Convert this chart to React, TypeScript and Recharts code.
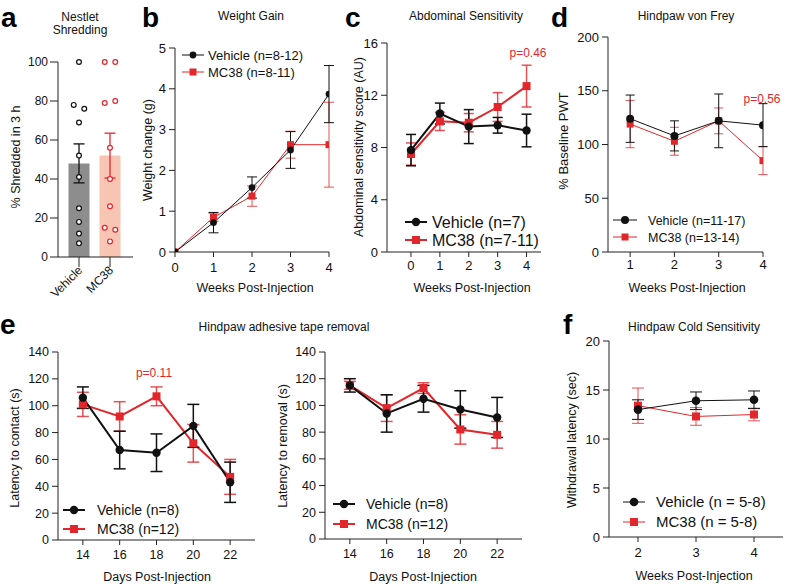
import React from 'react'
import {
  LineChart,
  Line,
  XAxis,
  YAxis,
  ErrorBar,
  ComposedChart,
  Bar,
  Cell,
  Scatter,
} from 'recharts'

const FONT = '"Liberation Sans", Arial, Helvetica, sans-serif'
const RED = '#e2262b'
const INK = '#111111'
const AXIS = '#222222'

// a: nestlet shredding
const shredGroups = ['Vehicle', 'MC38']
const shredMean = [48, 52]
const shredSem = [10, 11.5]
const shredVehicle = [100, 78, 76, 69, 52, 41, 25, 18, 12, 7]
const shredMC38 = [100, 100, 79, 80, 56, 40, 26, 15, 14, 8]

// b: weight gain
const weeksB = [0, 1, 2, 3, 4]
const weightVeh = [0, 0.72, 1.58, 2.5, 3.87]
const weightVehErr = [0, 0.25, 0.26, 0.45, 0.7]
const weightMC = [0, 0.85, 1.37, 2.63, 2.63]
const weightMCErr = [0, 0.1, 0.25, 0.33, 1.04]

// c: abdominal sensitivity
const weeksC = [0, 1, 2, 3, 4]
const abdVeh = [7.8, 10.6, 9.6, 9.7, 9.3]
const abdVehErr = [1.2, 0.8, 1.3, 0.6, 1.25]
const abdMC = [7.5, 10.0, 9.9, 11.1, 12.7]
const abdMCErr = [0.85, 0.7, 0.7, 1.1, 1.6]

// d: von Frey
const weeksD = [1, 2, 3, 4]
const frVeh = [124, 108, 122, 118]
const frVehErr = [22, 14, 25, 20]
const frMC = [119, 103, 122, 85]
const frMCErr = [22, 13, 12, 13]

// e: adhesive tape
const daysE = [14, 16, 18, 20, 22]
const contactVeh = [106, 67, 65, 85, 43]
const contactVehErr = [8, 14, 14, 16, 15]
const contactMC = [101, 92, 107, 72, 47]
const contactMCErr = [9, 11, 7, 14, 13]
const removalVeh = [115, 94, 105, 97, 91]
const removalVehErr = [5, 14, 10, 14, 15]
const removalMC = [115, 98, 113, 82, 78]
const removalMCErr = [3, 10, 4, 11, 10]

// f: cold sensitivity
const weeksF = [2, 3, 4]
const coldVeh = [13.0, 13.9, 14.0]
const coldVehErr = [1.0, 0.9, 0.9]
const coldMC = [13.4, 12.3, 12.5]
const coldMCErr = [1.8, 0.9, 0.65]

const series = (xs: number[], veh: number[], vehErr: number[], mc: number[], mcErr: number[]) =>
  xs.map((x, i) => ({ x, veh: veh[i], vehErr: vehErr[i], mc: mc[i], mcErr: mcErr[i] }))

// nudge near-equal points sideways so they don't overlap
const spread = (vals: number[], group: number) =>
  vals.map((v, i) => {
    let off = 0
    if (i + 1 < vals.length && Math.abs(vals[i + 1] - v) < 4) off = -0.17
    else if (i > 0 && Math.abs(vals[i - 1] - v) < 4) off = 0.17
    return { px: group + 1 + off, v }
  })

const YW = 40
const XH = 44
const MT = 12
const MR = 14

type Plot = { x0: number; y0: number; x1: number; y1: number }

const frame = (p: Plot) => ({
  left: p.x0 - YW,
  top: p.y0 - MT,
  width: p.x1 - p.x0 + YW + MR,
  height: p.y1 - p.y0 + MT + XH,
})

const circleDot = (r: number) => (p: any) =>
  p.cx == null || p.cy == null ? <g key={p.index} /> : <circle key={p.index} cx={p.cx} cy={p.cy} r={r} fill={INK} />

const squareDot = (s: number) => (p: any) =>
  p.cx == null || p.cy == null ? (
    <g key={p.index} />
  ) : (
    <rect key={p.index} x={p.cx - s / 2} y={p.cy - s / 2} width={s} height={s} fill={RED} />
  )

interface CourseProps {
  rows: any[]
  plot: Plot
  xDomain: number[]
  xTicks: number[]
  yDomain: number[]
  yTicks: number[]
  font: number
  xGap: number
  lineW: number
  dotR: number
  sq: number
  cap: number
  barW: number
}

function Course({ rows, plot, xDomain, xTicks, yDomain, yTicks, font, xGap, lineW, dotR, sq, cap, barW }: CourseProps) {
  const f = frame(plot)
  const tick = { fill: INK, fontSize: font, fontFamily: FONT }
  return (
    <div style={{ position: 'absolute', left: f.left, top: f.top }}>
      <LineChart width={f.width} height={f.height} data={rows} margin={{ top: MT, right: MR, left: 0, bottom: 0 }}>
        <XAxis
          dataKey="x"
          type="number"
          domain={xDomain}
          ticks={xTicks}
          interval={0}
          allowDataOverflow
          height={XH}
          tickSize={5}
          tickMargin={xGap}
          stroke={AXIS}
          tick={tick}
        />
        <YAxis
          type="number"
          domain={yDomain}
          ticks={yTicks}
          interval={0}
          allowDataOverflow
          width={YW}
          tickSize={6}
          tickMargin={3}
          stroke={AXIS}
          tick={tick}
        />
        <Line dataKey="mc" stroke={RED} strokeWidth={lineW} dot={squareDot(sq)} activeDot={false} isAnimationActive={false}>
          <ErrorBar dataKey="mcErr" width={cap} stroke={RED} strokeOpacity={0.8} strokeWidth={barW} isAnimationActive={false} />
        </Line>
        <Line dataKey="veh" stroke={INK} strokeWidth={lineW} dot={circleDot(dotR)} activeDot={false} isAnimationActive={false}>
          <ErrorBar dataKey="vehErr" width={cap} stroke={INK} strokeWidth={barW} isAnimationActive={false} />
        </Line>
      </LineChart>
    </div>
  )
}

function Shredding() {
  const plot = { x0: 58, y0: 62, x1: 133, y1: 257 }
  const f = frame(plot)
  const rows = shredGroups.map((g, i) => ({ group: g, mean: shredMean[i] }))
  const pad = { left: 5.5, right: 7.5 }
  const tick = { fill: INK, fontSize: 12, fontFamily: FONT }
  const slant = (p: any) => (
    <text
      x={p.x + 4}
      y={p.y + 4}
      transform={`rotate(-45 ${p.x + 4} ${p.y + 4})`}
      textAnchor="end"
      fontSize={12}
      fontFamily={FONT}
      fill={INK}
    >
      {p.payload.value}
    </text>
  )
  const hollow = (color: string) => (p: any) =>
    <circle cx={p.cx} cy={p.cy} r={2.4} fill="#fff" stroke={color} strokeWidth={1.2} />
  return (
    <div style={{ position: 'absolute', left: f.left, top: f.top }}>
      <ComposedChart width={f.width} height={f.height} data={rows} margin={{ top: MT, right: MR, left: 0, bottom: 0 }}>
        <XAxis xAxisId="cat" dataKey="group" padding={pad} height={XH} tickSize={10} tickMargin={0} stroke={AXIS} tick={slant} interval={0} />
        <XAxis xAxisId="num" dataKey="px" type="number" domain={[0.5, 2.5]} allowDataOverflow padding={pad} hide />
        <YAxis type="number" domain={[0, 100]} ticks={[0, 20, 40, 60, 80, 100]} interval={0} width={YW} tickSize={8} tickMargin={2} stroke={AXIS} tick={tick} />
        <Bar xAxisId="cat" dataKey="mean" barSize={21} isAnimationActive={false}>
          <Cell fill="#8d8d8f" />
          <Cell fill="#f8c4b4" />
        </Bar>
        {[0, 1].map((i) => (
          <Scatter
            key={'m' + i}
            xAxisId="num"
            data={[{ px: i + 1, mean: shredMean[i], sem: shredSem[i] }]}
            dataKey="mean"
            shape={() => <g />}
            isAnimationActive={false}
          >
            <ErrorBar dataKey="sem" direction="y" width={5.5} stroke={i === 0 ? INK : RED} strokeWidth={1.3} isAnimationActive={false} />
          </Scatter>
        ))}
        <Scatter xAxisId="num" data={spread(shredVehicle, 0)} dataKey="v" shape={hollow(INK)} isAnimationActive={false} />
        <Scatter xAxisId="num" data={spread(shredMC38, 1)} dataKey="v" shape={hollow(RED)} isAnimationActive={false} />
      </ComposedChart>
    </div>
  )
}

interface KeyProps {
  x: number
  y: number
  gap: number
  len: number
  tx: number
  font: number
  lineW: number
  r: number
  sq: number
  labels: string[]
}

function Key({ x, y, gap, len, tx, font, lineW, r, sq, labels }: KeyProps) {
  const mid = x + len / 2
  return (
    <g fontFamily={FONT} fontSize={font} fill={INK}>
      <line x1={x} x2={x + len} y1={y} y2={y} stroke={INK} strokeWidth={lineW} />
      <circle cx={mid} cy={y} r={r} fill={INK} />
      <text x={tx} y={y} dy="0.36em">{labels[0]}</text>
      <line x1={x} x2={x + len} y1={y + gap} y2={y + gap} stroke={RED} strokeWidth={lineW} />
      <rect x={mid - sq / 2} y={y + gap - sq / 2} width={sq} height={sq} fill={RED} />
      <text x={tx} y={y + gap} dy="0.36em">{labels[1]}</text>
    </g>
  )
}

const VLabel = ({ x, y, text, size = 12.5 }: { x: number; y: number; text: string; size?: number }) => (
  <text x={x} y={y} dy="0.36em" transform={`rotate(-90 ${x} ${y})`} textAnchor="middle" fontSize={size}>
    {text}
  </text>
)

export default function App() {
  return (
    <div style={{ position: 'absolute', left: 0, top: 0, width: 786, height: 584, background: '#fff', overflow: 'hidden' }}>
      <Shredding />
      <Course
        rows={series(weeksB, weightVeh, weightVehErr, weightMC, weightMCErr)}
        plot={{ x0: 175, y0: 48, x1: 329, y1: 252 }}
        xDomain={[0, 4]}
        xTicks={[0, 1, 2, 3, 4]}
        yDomain={[0, 5]}
        yTicks={[0, 1, 2, 3, 4, 5]}
        font={13}
        xGap={6}
        lineW={1}
        dotR={3.4}
        sq={7}
        cap={5}
        barW={1}
      />
      <Course
        rows={series(weeksC, abdVeh, abdVehErr, abdMC, abdMCErr)}
        plot={{ x0: 387, y0: 43, x1: 541, y1: 252 }}
        xDomain={[-0.83, 4.5]}
        xTicks={[0, 1, 2, 3, 4]}
        yDomain={[0, 16]}
        yTicks={[0, 4, 8, 12, 16]}
        font={13}
        xGap={4}
        lineW={2}
        dotR={4.2}
        sq={8}
        cap={5}
        barW={1.5}
      />
      <Course
        rows={series(weeksD, frVeh, frVehErr, frMC, frMCErr)}
        plot={{ x0: 608, y0: 37, x1: 763, y1: 252 }}
        xDomain={[0.5, 4]}
        xTicks={[1, 2, 3, 4]}
        yDomain={[0, 200]}
        yTicks={[0, 50, 100, 150, 200]}
        font={13}
        xGap={3}
        lineW={1}
        dotR={4}
        sq={7}
        cap={4.5}
        barW={1}
      />
      <Course
        rows={series(daysE, contactVeh, contactVehErr, contactMC, contactMCErr)}
        plot={{ x0: 58, y0: 352, x1: 255, y1: 540 }}
        xDomain={[12.65, 23.35]}
        xTicks={[14, 16, 18, 20, 22]}
        yDomain={[0, 140]}
        yTicks={[0, 20, 40, 60, 80, 100, 120, 140]}
        font={12.5}
        xGap={5}
        lineW={2}
        dotR={4.2}
        sq={8}
        cap={6}
        barW={1.5}
      />
      <Course
        rows={series(daysE, removalVeh, removalVehErr, removalMC, removalMCErr)}
        plot={{ x0: 325, y0: 352, x1: 522, y1: 539 }}
        xDomain={[12.65, 23.35]}
        xTicks={[14, 16, 18, 20, 22]}
        yDomain={[0, 140]}
        yTicks={[0, 20, 40, 60, 80, 100, 120, 140]}
        font={12.5}
        xGap={5}
        lineW={2}
        dotR={4.2}
        sq={8}
        cap={6}
        barW={1.5}
      />
      <Course
        rows={series(weeksF, coldVeh, coldVehErr, coldMC, coldMCErr)}
        plot={{ x0: 609, y0: 341, x1: 783, y1: 537 }}
        xDomain={[1.5, 4.5]}
        xTicks={[2, 3, 4]}
        yDomain={[0, 20]}
        yTicks={[0, 5, 10, 15, 20]}
        font={13}
        xGap={6}
        lineW={1}
        dotR={4.3}
        sq={8}
        cap={6}
        barW={1}
      />

      <svg width={786} height={584} style={{ position: 'absolute', left: 0, top: 0, pointerEvents: 'none' }}>
        <g fontFamily={FONT} fontWeight="bold" fontSize={28} fill="#000">
          <text x={1} y={27}>a</text>
          <text x={142} y={27}>b</text>
          <text x={345} y={27}>c</text>
          <text x={551} y={27}>d</text>
          <text x={0} y={334}>e</text>
          <text x={563} y={334}>f</text>
        </g>
        <g fontFamily={FONT} fontSize={12} fill={INK} textAnchor="middle">
          <text x={80} y={21}>Nestlet</text>
          <text x={80} y={34}>Shredding</text>
          <text x={251} y={20}>Weight Gain</text>
          <text x={466} y={20}>Abdominal Sensitivity</text>
          <text x={686} y={20}>Hindpaw von Frey</text>
          <text x={284} y={331}>Hindpaw adhesive tape removal</text>
          <text x={694} y={331}>Hindpaw Cold Sensitivity</text>
        </g>
        <g fontFamily={FONT} fontSize={12.5} fill={INK} textAnchor="middle">
          <text x={255} y={292}>Weeks Post-Injection</text>
          <text x={472} y={292}>Weeks Post-Injection</text>
          <text x={687} y={292}>Weeks Post-Injection</text>
          <text x={157} y={581}>Days Post-Injection</text>
          <text x={423} y={581}>Days Post-Injection</text>
          <text x={694} y={580}>Weeks Post-Injection</text>
        </g>
        <g fontFamily={FONT} fill={INK}>
          <VLabel x={15} y={157} text="% Shredded in 3 h" />
          <VLabel x={147} y={150} text="Weight change (g)" />
          <VLabel x={358} y={147} text="Abdominal sensitivity score (AU)" />
          <VLabel x={563} y={141} text="% Baseline PWT" size={13} />
          <VLabel x={14} y={448} text="Latency to contact (s)" />
          <VLabel x={282} y={446} text="Latency to removal (s)" />
          <VLabel x={571} y={440} text="Withdrawal latency (sec)" />
        </g>
        <g fontFamily={FONT} fontSize={12} fill={RED} textAnchor="middle">
          <text x={528} y={57}>p=0.46</text>
          <text x={762} y={103}>p=0.56</text>
          <text x={154} y={377}>p=0.11</text>
        </g>
        <Key x={182} y={55} gap={17} len={22} tx={208} font={13} lineW={1} r={3.4} sq={7} labels={['Vehicle (n=8-12)', 'MC38 (n=8-11)']} />
        <Key x={405} y={222} gap={18} len={22} tx={432} font={16} lineW={2} r={4.2} sq={8} labels={['Vehicle (n=7)', 'MC38 (n=7-11)']} />
        <Key x={613} y={220} gap={17} len={24} tx={648} font={12.5} lineW={1} r={4} sq={7} labels={['Vehicle (n=11-17)', 'MC38 (n=13-14)']} />
        <Key x={63} y={510} gap={19} len={22} tx={97} font={14} lineW={2} r={4.2} sq={8} labels={['Vehicle (n=8)', 'MC38 (n=12)']} />
        <Key x={333} y={504} gap={20} len={22} tx={366} font={14} lineW={2} r={4.2} sq={8} labels={['Vehicle (n=8)', 'MC38 (n=12)']} />
        <Key x={623} y={502} gap={20} len={22} tx={656} font={15} lineW={1} r={4.3} sq={8} labels={['Vehicle (n = 5-8)', 'MC38 (n = 5-8)']} />
      </svg>
    </div>
  )
}
